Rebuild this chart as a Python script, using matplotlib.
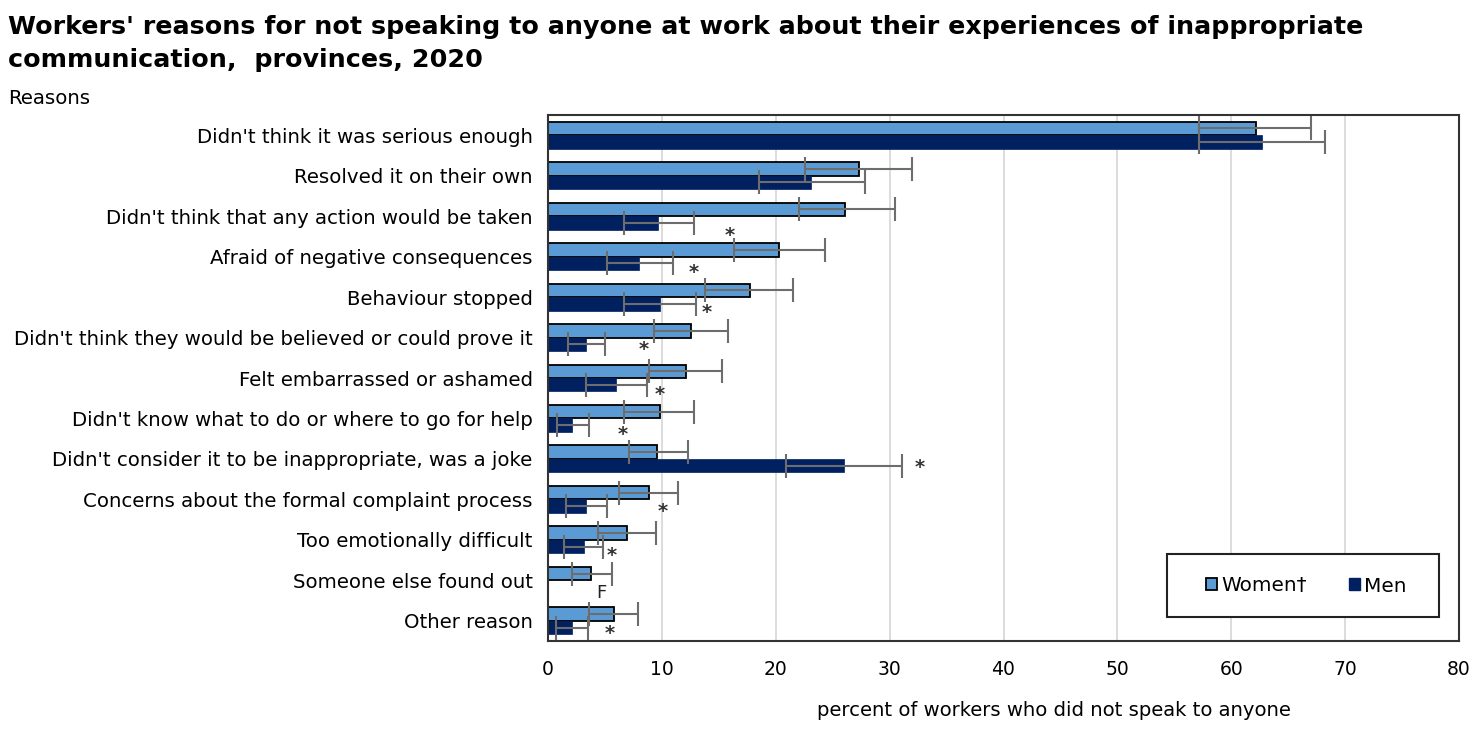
import numpy as np
import matplotlib
matplotlib.use("Agg")
import matplotlib.pyplot as plt
from matplotlib.patches import Patch, Rectangle

# data
reasons = [
    "Didn't think it was serious enough",
    "Resolved it on their own",
    "Didn't think that any action would be taken",
    "Afraid of negative consequences",
    "Behaviour stopped",
    "Didn't think they would be believed or could prove it",
    "Felt embarrassed or ashamed",
    "Didn't know what to do or where to go for help",
    "Didn't consider it to be inappropriate, was a joke",
    "Concerns about the formal complaint process",
    "Too emotionally difficult",
    "Someone else found out",
    "Other reason",
]
women = [62.2, 27.3, 26.1, 20.3, 17.7, 12.6, 12.1, 9.8, 9.6, 8.9, 6.9, 3.8, 5.8]
women_lo = [57.2, 22.6, 22.0, 16.3, 13.8, 9.3, 8.9, 6.7, 7.1, 6.2, 4.4, 2.1, 3.6]
women_hi = [67.0, 32.0, 30.5, 24.3, 21.5, 15.8, 15.3, 12.8, 12.3, 11.4, 9.5, 5.6, 7.9]
men = [62.7, 23.1, 9.7, 8.0, 9.8, 3.3, 6.0, 2.1, 26.0, 3.3, 3.2, np.nan, 2.1]
men_lo = [57.2, 18.5, 6.7, 5.2, 6.7, 1.8, 3.3, 0.8, 20.9, 1.6, 1.4, np.nan, 0.7]
men_hi = [68.2, 27.8, 12.8, 11.0, 13.0, 5.0, 8.7, 3.6, 31.1, 5.2, 4.8, np.nan, 3.5]
# significance flags for men and where they sit
men_flag = ["", "", "*", "*", "*", "*", "*", "*", "*", "*", "*", "F", "*"]
flag_x = [0, 0, 16.0, 12.8, 13.9, 8.4, 9.8, 6.6, 32.6, 10.1, 5.6, 4.7, 5.4]

# vertical offset of each flag below the category centre
flag_dy = [0, 0, 0.49, 0.39, 0.38, 0.29, 0.40, 0.39, 0.22, 0.30, 0.39, 0.32, 0.31]

women_col = "#5B9BD5"
men_col = "#002060"
err_col = "#6d6d6d"

fig = plt.figure(figsize=(14.83, 7.33), dpi=100)
ax = fig.add_axes([548/1483, 1-641/733, 911/1483, 526/733])

y = np.arange(len(reasons))
h = 1/3
women = np.array(women); men = np.array(men)
ax.barh(y - h/2, women, height=h, color=women_col, edgecolor="black", linewidth=1.3, zorder=2)
ax.barh(y + h/2, men, height=h, color=men_col, edgecolor=men_col, linewidth=0.5, zorder=2)

w_err = [women - np.array(women_lo), np.array(women_hi) - women]
m_err = [men - np.array(men_lo), np.array(men_hi) - men]
ax.errorbar(women, y - h/2, xerr=w_err, fmt="none", ecolor=err_col, elinewidth=1.5,
            capsize=8.5, capthick=1.5, zorder=3)
ax.errorbar(men, y + h/2, xerr=m_err, fmt="none", ecolor=err_col, elinewidth=1.5,
            capsize=8.5, capthick=1.5, zorder=3)

for i, (f, fx, dy) in enumerate(zip(men_flag, flag_x, flag_dy)):
    if not f:
        continue
    if f == "F":
        ax.text(fx, i + dy, f, ha="center", va="center", fontsize=13, color="#222222")
    else:
        ax.text(fx, i + dy, f, ha="center", va="center", fontsize=14,
                fontweight="bold", color="#333333")

ax.set_xlim(0, 80)
ax.set_ylim(len(reasons) - 0.5, -0.5)
ax.set_xticks(range(0, 81, 10))
ax.set_yticks(y)
ax.set_yticklabels(reasons, fontsize=14.2)
ax.tick_params(axis="y", length=0, pad=11)
ax.tick_params(axis="x", length=0, pad=14, labelsize=13.5)
ax.grid(axis="x", color="#d9d9d9", linewidth=1.3, zorder=0)
ax.set_axisbelow(True)
for s in ax.spines.values():
    s.set_color("#333333")
    s.set_linewidth(1.5)

fig.text(1054/1483, 1-711/733, "percent of workers who did not speak to anyone",
         ha="center", va="center", fontsize=14.1)
fig.text(8/1483, 1-98/733, "Reasons", ha="left", va="center", fontsize=14.2)
fig.text(8/1483, 1-15/733,
         "Workers' reasons for not speaking to anyone at work about their experiences of inappropriate\ncommunication,  provinces, 2020",
         ha="left", va="top", fontsize=18.3, fontweight="bold", linespacing=1.5)

# legend frame drawn separately so the padding matches
fig.add_artist(Rectangle((1167/1483, 1-617/733), 272/1483, 63/733, transform=fig.transFigure,
                         facecolor="white", edgecolor="#222222", linewidth=1.5, zorder=4))
handles = [Patch(facecolor=women_col, edgecolor="black", linewidth=1.3),
           Patch(facecolor=men_col, edgecolor=men_col)]
leg = fig.legend(handles, ["Women\u2020", "Men"], ncol=2, fontsize=14.4,
                 loc="center", bbox_to_anchor=(1306/1483, 1-586/733),
                 handlelength=0.55, handleheight=0.55, handletextpad=0.2,
                 columnspacing=2.1, frameon=False)
leg.set_zorder(5)

fig.savefig("out.png", dpi=100)
